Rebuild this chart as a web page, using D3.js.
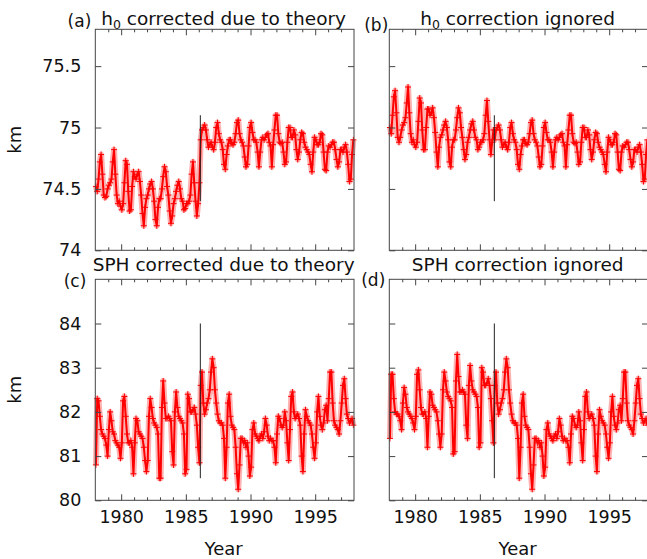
<!DOCTYPE html>
<html>
<head>
<meta charset="utf-8">
<script src="https://cdn.jsdelivr.net/npm/d3@7"></script>
<style>
body { margin: 0; background: #fff; }
text { font-family: "DejaVu Sans", sans-serif; fill: #111; }
</style>
</head>
<body>
<div id="chart"></div>
<script>
// Data (one row per year, 10 samples per year)
// ============================================================================
const firstYear = 1978, lastYear = 1998, perYear = 10;
const jumpYear = 1986.12;

const h0Corrected = [
  74.52, 74.48, 74.58, 74.72, 74.78, 74.62, 74.45, 74.43, 74.44, 74.50, // 1978
  74.53, 74.55, 74.58, 74.72, 74.82, 74.62, 74.45, 74.38, 74.40, 74.36, // 1979
  74.33, 74.38, 74.55, 74.73, 74.70, 74.48, 74.32, 74.33, 74.52, 74.64, // 1980
  74.60, 74.58, 74.62, 74.64, 74.56, 74.45, 74.30, 74.20, 74.35, 74.42, // 1981
  74.45, 74.50, 74.54, 74.56, 74.50, 74.40, 74.25, 74.20, 74.35, 74.42, // 1982
  74.42, 74.50, 74.60, 74.68, 74.64, 74.52, 74.45, 74.32, 74.22, 74.28, // 1983
  74.38, 74.42, 74.48, 74.53, 74.56, 74.50, 74.42, 74.40, 74.33, 74.34, // 1984
  74.38, 74.38, 74.40, 74.45, 74.62, 74.72, 74.55, 74.40, 74.28, 74.38, // 1985
  74.55, 74.90, 74.98, 75.00, 75.02, 74.98, 74.90, 74.84, 74.86, 74.88, // 1986
  74.84, 74.82, 74.88, 75.00, 75.04, 74.95, 74.90, 74.88, 74.82, 74.70, // 1987
  74.66, 74.78, 74.85, 74.90, 74.90, 74.87, 74.86, 74.88, 74.95, 75.04, // 1988
  75.06, 74.95, 74.90, 74.88, 74.85, 74.76, 74.68, 74.70, 74.85, 75.00, // 1989
  75.04, 74.96, 74.90, 74.90, 74.88, 74.80, 74.68, 74.80, 74.90, 74.92, // 1990
  74.90, 74.92, 74.94, 74.95, 74.88, 74.85, 74.68, 74.86, 74.98, 75.10, // 1991
  75.10, 74.95, 74.88, 74.87, 74.88, 74.80, 74.70, 74.72, 74.88, 75.00, // 1992
  75.00, 74.92, 74.92, 74.98, 74.94, 74.82, 74.74, 74.80, 74.90, 74.96, // 1993
  74.95, 74.88, 74.84, 74.82, 74.80, 74.78, 74.70, 74.64, 74.80, 74.92, // 1994
  74.90, 74.86, 74.86, 74.88, 74.95, 74.94, 74.80, 74.66, 74.65, 74.80, // 1995
  74.85, 74.84, 74.86, 74.88, 74.88, 74.82, 74.74, 74.68, 74.72, 74.82, // 1996
  74.82, 74.80, 74.84, 74.86, 74.80, 74.70, 74.56, 74.58, 74.78, 74.90  // 1997
];

const h0Ignored = [
  75.00, 74.95, 75.10, 75.25, 75.30, 75.12, 74.92, 74.88, 74.92, 74.98, // 1978
  75.02, 75.04, 75.08, 75.20, 75.33, 75.12, 74.95, 74.88, 74.90, 74.86, // 1979
  74.84, 74.88, 75.05, 75.24, 75.20, 74.98, 74.82, 74.82, 75.00, 75.15, // 1980
  75.15, 75.10, 75.12, 75.16, 75.08, 74.96, 74.80, 74.68, 74.84, 74.92, // 1981
  74.94, 74.98, 75.02, 75.05, 75.00, 74.90, 74.72, 74.68, 74.84, 74.90, // 1982
  74.90, 74.98, 75.08, 75.16, 75.12, 75.00, 74.92, 74.82, 74.74, 74.78, // 1983
  74.88, 74.92, 74.98, 75.03, 75.05, 74.98, 74.92, 74.90, 74.82, 74.84, // 1984
  74.88, 74.88, 74.90, 74.95, 75.10, 75.22, 75.05, 74.90, 74.78, 74.88, // 1985
  74.98, 74.90, 74.98, 75.00, 75.02, 74.98, 74.90, 74.84, 74.86, 74.88, // 1986
  74.84, 74.82, 74.88, 75.00, 75.04, 74.95, 74.90, 74.88, 74.82, 74.70, // 1987
  74.66, 74.78, 74.85, 74.90, 74.90, 74.87, 74.86, 74.88, 74.95, 75.04, // 1988
  75.06, 74.95, 74.90, 74.88, 74.85, 74.76, 74.68, 74.70, 74.85, 75.00, // 1989
  75.04, 74.96, 74.90, 74.90, 74.88, 74.80, 74.68, 74.80, 74.90, 74.92, // 1990
  74.90, 74.92, 74.94, 74.95, 74.88, 74.85, 74.68, 74.86, 74.98, 75.10, // 1991
  75.10, 74.95, 74.88, 74.87, 74.88, 74.80, 74.70, 74.72, 74.88, 75.00, // 1992
  75.00, 74.92, 74.92, 74.98, 74.94, 74.82, 74.74, 74.80, 74.90, 74.96, // 1993
  74.95, 74.88, 74.84, 74.82, 74.80, 74.78, 74.70, 74.64, 74.80, 74.92, // 1994
  74.90, 74.86, 74.86, 74.88, 74.95, 74.94, 74.80, 74.66, 74.65, 74.80, // 1995
  74.85, 74.84, 74.86, 74.88, 74.88, 74.82, 74.74, 74.68, 74.72, 74.82, // 1996
  74.82, 74.80, 74.84, 74.86, 74.80, 74.70, 74.56, 74.58, 74.78, 74.90  // 1997
];

const sphCorrected = [
  80.80, 82.30, 82.25, 81.90, 81.60, 81.50, 81.45, 81.40, 81.25, 81.00, // 1978
  81.60, 82.00, 81.80, 81.55, 81.50, 81.35, 81.30, 81.25, 81.20, 80.95, // 1979
  81.30, 82.25, 82.35, 81.90, 81.50, 81.30, 81.30, 81.35, 81.20, 80.60, // 1980
  81.30, 81.85, 81.80, 81.55, 81.50, 81.45, 81.40, 81.20, 80.90, 80.65, // 1981
  80.90, 81.90, 82.30, 82.10, 81.85, 81.75, 81.70, 81.65, 81.50, 80.50, // 1982
  80.50, 82.10, 82.70, 82.20, 81.85, 81.85, 81.90, 81.85, 81.80, 81.10, // 1983
  80.80, 82.00, 82.45, 82.10, 81.90, 81.85, 81.80, 81.75, 81.50, 80.60, // 1984
  80.70, 82.40, 82.30, 82.00, 82.00, 82.05, 82.10, 81.95, 81.70, 81.20, // 1985
  80.85, 82.60, 82.90, 82.20, 81.95, 82.05, 82.20, 82.30, 82.50, 82.90, // 1986
  83.20, 83.00, 82.50, 82.20, 81.95, 81.80, 81.75, 81.75, 81.70, 81.40, // 1987
  80.50, 81.20, 82.20, 82.40, 81.90, 81.70, 81.65, 81.60, 81.20, 80.60, // 1988
  80.25, 80.80, 81.40, 81.40, 81.30, 81.35, 81.20, 81.30, 81.00, 80.55, // 1989
  80.75, 81.60, 81.75, 81.50, 81.45, 81.40, 81.35, 81.45, 81.50, 81.40, // 1990
  81.55, 81.85, 81.70, 81.45, 81.35, 81.40, 81.35, 81.35, 81.20, 80.85, // 1991
  81.50, 81.90, 81.85, 81.70, 81.65, 81.70, 82.00, 81.80, 81.30, 80.90, // 1992
  81.60, 82.35, 82.45, 82.00, 81.85, 81.90, 81.95, 81.85, 81.70, 81.00, // 1993
  80.65, 81.50, 82.05, 81.90, 81.80, 81.75, 81.70, 81.50, 81.20, 80.95, // 1994
  81.30, 82.00, 82.35, 81.90, 81.70, 81.60, 81.75, 82.05, 82.15, 81.80, // 1995
  82.30, 82.90, 82.90, 82.20, 81.80, 81.70, 81.65, 81.60, 81.50, 81.80, // 1996
  82.20, 82.60, 82.75, 82.30, 81.95, 81.85, 81.75, 81.80, 81.85, 81.70  // 1997
];

const sphIgnored = [
  81.40, 82.85, 82.85, 82.30, 82.00, 81.95, 81.95, 81.90, 81.80, 81.60, // 1978
  82.20, 82.55, 82.40, 82.10, 82.00, 81.95, 81.90, 81.85, 81.75, 81.60, // 1979
  81.90, 82.85, 82.95, 82.50, 82.10, 81.95, 81.95, 82.00, 81.85, 81.20, // 1980
  81.90, 82.45, 82.40, 82.15, 82.10, 82.05, 82.00, 81.80, 81.50, 81.20, // 1981
  81.50, 82.50, 82.90, 82.70, 82.45, 82.35, 82.30, 82.25, 82.10, 81.05, // 1982
  81.10, 82.70, 83.30, 82.80, 82.45, 82.45, 82.50, 82.45, 82.40, 81.70, // 1983
  81.40, 82.60, 83.05, 82.70, 82.50, 82.45, 82.40, 82.35, 82.10, 81.20, // 1984
  81.30, 83.00, 82.90, 82.60, 82.60, 82.65, 82.75, 82.60, 82.30, 81.80, // 1985
  81.30, 82.60, 82.90, 82.20, 81.95, 82.05, 82.20, 82.30, 82.50, 82.90, // 1986
  83.20, 83.00, 82.50, 82.20, 81.95, 81.80, 81.75, 81.75, 81.70, 81.40, // 1987
  80.50, 81.20, 82.20, 82.40, 81.90, 81.70, 81.65, 81.60, 81.20, 80.60, // 1988
  80.25, 80.80, 81.40, 81.40, 81.30, 81.35, 81.20, 81.30, 81.00, 80.55, // 1989
  80.75, 81.60, 81.75, 81.50, 81.45, 81.40, 81.35, 81.45, 81.50, 81.40, // 1990
  81.55, 81.85, 81.70, 81.45, 81.35, 81.40, 81.35, 81.35, 81.20, 80.85, // 1991
  81.50, 81.90, 81.85, 81.70, 81.65, 81.70, 82.00, 81.80, 81.30, 80.90, // 1992
  81.60, 82.35, 82.45, 82.00, 81.85, 81.90, 81.95, 81.85, 81.70, 81.00, // 1993
  80.65, 81.50, 82.05, 81.90, 81.80, 81.75, 81.70, 81.50, 81.20, 80.95, // 1994
  81.30, 82.00, 82.35, 81.90, 81.70, 81.60, 81.75, 82.05, 82.15, 81.80, // 1995
  82.30, 82.90, 82.90, 82.20, 81.80, 81.70, 81.65, 81.60, 81.50, 81.80, // 1996
  82.20, 82.60, 82.75, 82.30, 81.95, 81.85, 81.75, 81.80, 81.85, 81.70  // 1997
];

const yearTicks = [1980, 1985, 1990, 1995];
const yearMinorTicks = [1979, 1981, 1982, 1983, 1984, 1986, 1987, 1988, 1989,
    1991, 1992, 1993, 1994, 1996, 1997];
const h0Ticks = [74, 74.5, 75, 75.5];
const h0TickLabels = ["74", "74.5", "75", "75.5"];
const sphTicks = [80, 81, 82, 83, 84];
const sphTickLabels = ["80", "81", "82", "83", "84"];

// Layout
// ============================================================================
const W = 647, H = 559,
    colX = [95.3, 389.3],
    rowY = [29.3, 279.3],
    pw = 258.7,
    ph = 221;

const sampleYears = d3.range(firstYear * perYear, lastYear * perYear)
    .map(k => (k + 0.5) / perYear);

const panels = [
    {tag: "(a)", title: ["h", "0", " corrected due to theory"], values: h0Corrected,
     domain: [74, 75.8], ticks: h0Ticks, labels: h0TickLabels, jump: [74.4, 75.1],
     col: 0, row: 0, tagPos: [-4, -2.5], titleY: -4.5},
    {tag: "(b)", title: ["h", "0", " correction ignored"], values: h0Ignored,
     domain: [74, 75.8], ticks: h0Ticks, labels: h0TickLabels, jump: [74.4, 75.1],
     col: 1, row: 0, tagPos: [-1, 1.5], titleY: -4.5},
    {tag: "(c)", title: ["SPH corrected due to theory"], values: sphCorrected,
     domain: [80, 85], ticks: sphTicks, labels: sphTickLabels, jump: [80.5, 84],
     col: 0, row: 1, tagPos: [-9, 8], titleY: -8.5},
    {tag: "(d)", title: ["SPH correction ignored"], values: sphIgnored,
     domain: [80, 85], ticks: sphTicks, labels: sphTickLabels, jump: [80.5, 84],
     col: 1, row: 1, tagPos: [-4, 7], titleY: -8.5}
];

const svg = d3.select("#chart").append("svg")
    .attr("width", W)
    .attr("height", H);

const xScale = d3.scaleLinear().domain([firstYear, lastYear]).range([0, pw]);

panels.forEach(p => {
    const g = svg.append("g")
        .attr("transform", `translate(${colX[p.col]},${rowY[p.row]})`);

    const yScale = d3.scaleLinear().domain(p.domain).range([ph, 0]);
    const pts = sampleYears.map((t, i) => ({t: t, v: p.values[i]}));
    const trace = d3.line().x(d => xScale(d.t)).y(d => yScale(d.v));

    // Data: soft halo, trace and "+" markers
    g.append("path")
        .datum(pts)
        .attr("fill", "none")
        .attr("stroke", "#ff0000")
        .attr("stroke-opacity", 0.3)
        .attr("stroke-width", 6)
        .attr("stroke-linejoin", "round")
        .attr("d", trace);

    g.append("path")
        .datum(pts)
        .attr("fill", "none")
        .attr("stroke", "#ff0000")
        .attr("stroke-width", 2)
        .attr("stroke-linejoin", "round")
        .attr("d", trace);

    g.selectAll(".pt")
        .data(pts)
        .join("path")
            .attr("class", "pt")
            .attr("transform", d => `translate(${xScale(d.t)},${yScale(d.v)})`)
            .attr("d", "M-3,0H3M0,-3V3")
            .attr("stroke", "#ff0000")
            .attr("stroke-width", 1);

    // Vertical marker at the 1986 change
    g.append("line")
        .attr("x1", xScale(jumpYear)).attr("x2", xScale(jumpYear))
        .attr("y1", yScale(p.jump[0])).attr("y2", yScale(p.jump[1]))
        .attr("stroke", "#222")
        .attr("stroke-width", 1);

    // Axes (ticks inward on all four sides)
    g.append("g")
        .attr("transform", `translate(0,${ph})`)
        .call(d3.axisBottom(xScale).tickValues(yearTicks).tickSize(-6).tickPadding(p.row === 1 ? 10 : 0)
            .tickFormat(p.row === 1 ? d3.format("d") : ""));
    g.append("g")
        .attr("transform", `translate(0,${ph})`)
        .call(d3.axisBottom(xScale).tickValues(yearMinorTicks).tickSize(-3).tickFormat(""));
    g.append("g")
        .call(d3.axisTop(xScale).tickValues(yearTicks).tickSize(-6).tickFormat(""));
    g.append("g")
        .call(d3.axisTop(xScale).tickValues(yearMinorTicks).tickSize(-3).tickFormat(""));
    g.append("g")
        .call(d3.axisLeft(yScale).tickValues(p.ticks).tickSize(-6).tickPadding(14)
            .tickFormat((d, i) => p.col === 0 ? p.labels[i] : ""));
    g.append("g")
        .attr("transform", `translate(${pw},0)`)
        .call(d3.axisRight(yScale).tickValues(p.ticks).tickSize(-6).tickFormat(""));

    g.selectAll(".domain").remove();
    g.selectAll(".tick line").attr("stroke", "#444");
    g.selectAll(".tick text")
        .attr("fill", "#111")
        .style("font-size", "17.5px")
        .style("font-family", "DejaVu Sans");

    // Frame
    g.append("rect")
        .attr("width", pw).attr("height", ph)
        .attr("fill", "none")
        .attr("stroke", "#444")
        .attr("stroke-width", 1);

    // Titles
    const title = g.append("text")
        .attr("x", pw / 2 - 1)
        .attr("y", p.titleY)
        .attr("text-anchor", "middle")
        .style("font-size", "18.5px");
    if (p.title.length === 3) {
        title.append("tspan").text(p.title[0]);
        title.append("tspan").attr("dy", 4).style("font-size", "12.5px").text(p.title[1]);
        title.append("tspan").attr("dy", -4).text(p.title[2]);
    } else {
        title.text(p.title[0]);
    }

    g.append("text")
        .attr("x", p.tagPos[0])
        .attr("y", p.tagPos[1])
        .attr("text-anchor", "end")
        .style("font-size", "17px")
        .text(p.tag);

    // Axis titles
    if (p.col === 0) {
        g.append("text")
            .attr("transform", `translate(-74,${ph / 2}) rotate(-90)`)
            .attr("text-anchor", "middle")
            .style("font-size", "18px")
            .text("km");
    }
    if (p.row === 1) {
        g.append("text")
            .attr("x", pw / 2 - 1)
            .attr("y", ph + 55)
            .attr("text-anchor", "middle")
            .style("font-size", "18px")
            .text("Year");
    }
});
</script>
</body>
</html>
